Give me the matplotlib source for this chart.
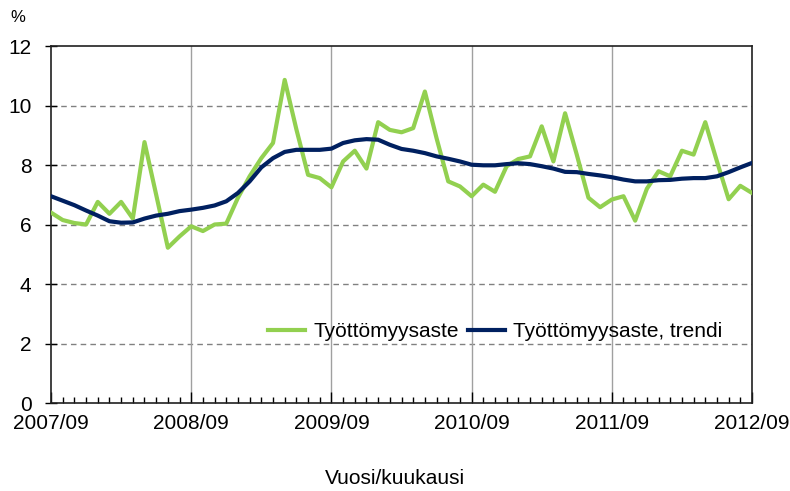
import numpy as np
import matplotlib
matplotlib.use('Agg')
import matplotlib.pyplot as plt
from matplotlib.ticker import MultipleLocator

plt.rcParams['font.family'] = ['Liberation Sans Narrow', 'Liberation Sans', 'DejaVu Sans']

# monthly values 2007/09 .. 2012/09
rate = [6.4, 6.15, 6.05, 6.0, 6.76, 6.36, 6.76, 6.2, 8.77, 7.0,
        5.22, 5.6, 5.94, 5.78, 6.0, 6.03, 6.9, 7.62, 8.23, 8.74,
        10.86, 9.2, 7.67, 7.56, 7.25, 8.12, 8.48, 7.88, 9.44, 9.18,
        9.1, 9.24, 10.47, 8.9, 7.45, 7.28, 6.95, 7.34, 7.1, 7.96,
        8.2, 8.29, 9.3, 8.12, 9.74, 8.35, 6.9, 6.58, 6.84, 6.95,
        6.13, 7.2, 7.79, 7.62, 8.48, 8.35, 9.44, 8.12, 6.85, 7.3,
        7.06]
trend = [6.95, 6.8, 6.65, 6.47, 6.3, 6.11, 6.06, 6.07, 6.2, 6.3,
         6.36, 6.45, 6.5, 6.56, 6.64, 6.78, 7.06, 7.45, 7.92, 8.23,
         8.44, 8.51, 8.51, 8.51, 8.55, 8.74, 8.83, 8.87, 8.85, 8.68,
         8.54, 8.48, 8.4, 8.29, 8.21, 8.12, 8.01, 7.99, 7.99, 8.03,
         8.06, 8.03, 7.96, 7.88, 7.77, 7.76, 7.7, 7.65, 7.59, 7.51,
         7.45, 7.45, 7.49, 7.5, 7.54, 7.56, 7.56, 7.62, 7.76, 7.92,
         8.07]
year_labels = ['2007/09', '2008/09', '2009/09', '2010/09', '2011/09', '2012/09']
series_names = ['Työttömyysaste', 'Työttömyysaste, trendi']

months = np.arange(len(rate))

fig = plt.figure(figsize=(7.9, 4.91), dpi=100)
ax = fig.add_axes([0.0646, 0.1792, 0.8873, 0.7271])

ax.plot(months, rate, color='#92D050', lw=3.0, label=series_names[0], zorder=3)
ax.plot(months, trend, color='#002060', lw=3.0, label=series_names[1], zorder=4)

ax.set_xlim(0, 60)
ax.set_ylim(0, 12)
ax.set_xticks(np.arange(0, 61, 12))
ax.set_xticklabels(year_labels)
ax.xaxis.set_minor_locator(MultipleLocator(1))
ax.set_yticks(np.arange(0, 13, 2))

for y in range(2, 12, 2):
    ax.axhline(y, color='#808080', lw=1.0, ls=(0, (4, 3)), zorder=1)
for x in range(12, 60, 12):
    ax.axvline(x, color='#a0a0a0', lw=1.0, zorder=1)

ax.tick_params(axis='y', direction='inout', length=8, width=1, labelsize=15, pad=10)
ax.tick_params(axis='x', which='major', direction='in', length=8, width=1, labelsize=15, pad=8)
ax.tick_params(axis='x', which='minor', direction='in', length=4, width=1)
for s in ax.spines.values():
    s.set_linewidth(1.2)
    s.set_color('#202020')

fig.text(18 / 790, 1 - 18 / 491, '%', fontsize=12, ha='center', va='center')
fig.text(395 / 790, 1 - 478 / 491, 'Vuosi/kuukausi', fontsize=15, ha='center', va='center')

ax.legend(loc='lower right', bbox_to_anchor=(0.985, 0.12), ncol=2, frameon=False,
          fontsize=15, handlelength=1.8, handletextpad=0.4, columnspacing=0.4)

fig.savefig('out.png', dpi=100)
